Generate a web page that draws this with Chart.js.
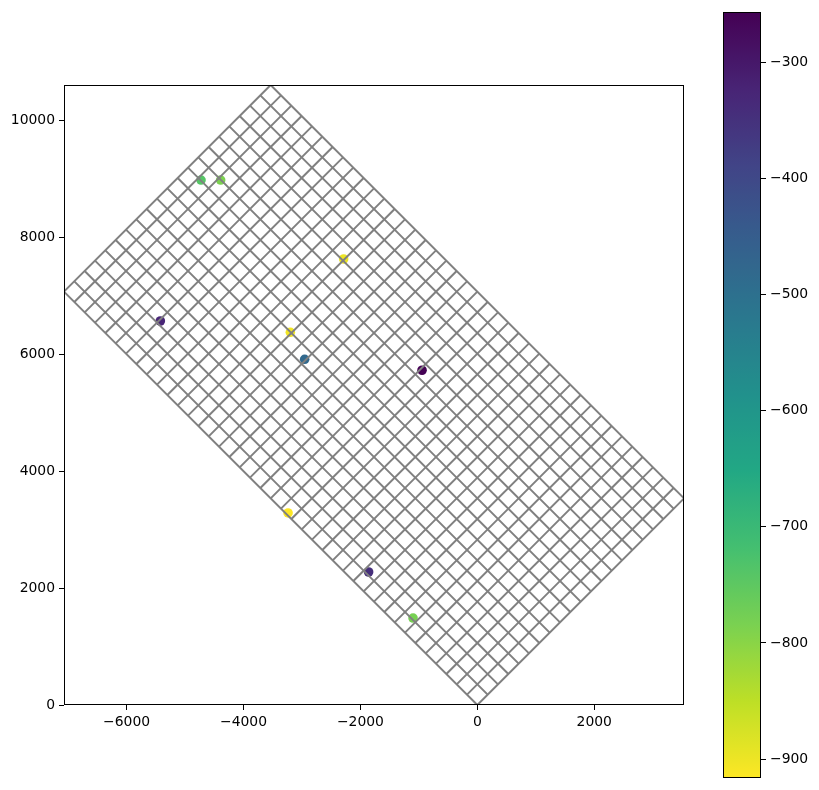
<!DOCTYPE html>
<html><head><meta charset="utf-8">
<script src="https://cdn.jsdelivr.net/npm/chart.js@4.4.0/dist/chart.umd.min.js"></script>
<style>
html,body{margin:0;padding:0;background:#fff;}
#wrap{position:relative;width:819px;height:790px;background:#fff;}
#main{position:absolute;left:0;top:0;}
#cbar{position:absolute;left:700px;top:0;}
</style></head><body>
<div id="wrap"><canvas id="main" width="700" height="790"></canvas><canvas id="cbar" width="119" height="790"></canvas></div>
<script>
// ---- data ----
const obsX = [-4727, -4391, -2287, -5423, -3199, -2954, -946, -3238, -1860, -1100];
const obsY = [8981, 8981, 7630, 6569, 6376, 5914, 5727, 3285, 2275, 1488];
const obsValue = [-740, -785, -900, -325, -905, -480, -257, -916, -345, -780];

// model grid definition
const gridNcol = 20;
const gridNrow = 40;
const gridDelr = 250;
const gridDelc = 250;
const gridAngleDeg = 45;

const xTicks = [-6000, -4000, -2000, 0, 2000];
const yTicks = [0, 2000, 4000, 6000, 8000, 10000];
const cbarTicks = [-900, -800, -700, -600, -500, -400, -300];

// ---- helpers ----
const VIRIDIS = ['#440154','#482475','#414487','#355f8d','#2a788e','#21918c','#22a884','#44bf70','#7ad151','#bddf26','#fde725'];
function hex2rgb(h){return [parseInt(h.slice(1,3),16),parseInt(h.slice(3,5),16),parseInt(h.slice(5,7),16)];}
function viridis(t){
  t = Math.max(0, Math.min(1, t));
  const p = t * (VIRIDIS.length - 1);
  const i = Math.min(Math.floor(p), VIRIDIS.length - 2);
  const f = p - i;
  const a = hex2rgb(VIRIDIS[i]), b = hex2rgb(VIRIDIS[i+1]);
  return 'rgb(' + [0,1,2].map(k => Math.round(a[k] + (b[k]-a[k])*f)).join(',') + ')';
}
const vmin = Math.min(...obsValue), vmax = Math.max(...obsValue);
// reversed viridis: min -> yellow, max -> purple
function valueColor(v){ return viridis(1 - (v - vmin) / (vmax - vmin)); }

const ang = gridAngleDeg * Math.PI / 180;
function rot(xl, yl){ return {x: xl*Math.cos(ang) - yl*Math.sin(ang), y: xl*Math.sin(ang) + yl*Math.cos(ang)}; }
const Lx = gridNcol * gridDelr, Ly = gridNrow * gridDelc;

const gridDatasets = [];
for (let i = 0; i <= gridNcol; i++) {
  gridDatasets.push({data: [rot(i*gridDelr, 0), rot(i*gridDelr, Ly)]});
}
for (let j = 0; j <= gridNrow; j++) {
  gridDatasets.push({data: [rot(0, j*gridDelc), rot(Lx, j*gridDelc)]});
}
gridDatasets.forEach(d => Object.assign(d, {
  showLine: true, borderColor: '#808080', borderWidth: 2, pointRadius: 0,
  order: 0, clip: 0, fill: false
}));

const corners = [rot(0,0), rot(Lx,0), rot(0,Ly), rot(Lx,Ly)];
const xMin = Math.min(...corners.map(c=>c.x)), xMax = Math.max(...corners.map(c=>c.x));
const yMin = Math.min(...corners.map(c=>c.y)), yMax = Math.max(...corners.map(c=>c.y));

const pointsDataset = {
  data: obsX.map((x,i) => ({x: x, y: obsY[i]})),
  pointRadius: 4.8,
  pointBorderWidth: 0,
  pointBackgroundColor: obsValue.map(valueColor),
  pointBorderColor: obsValue.map(valueColor),
  showLine: false,
  order: 1
};

const FONT = {family: '"DejaVu Sans", sans-serif', size: 13.9};
const minus = v => String(v).replace('-', '\u2212');

const framePlugin = {
  id: 'frame',
  afterDraw(chart){
    const a = chart.chartArea, ctx = chart.ctx;
    ctx.save();
    ctx.strokeStyle = '#000'; ctx.lineWidth = 1;
    const l = Math.round(a.left) + 0.5, t = Math.round(a.top) + 0.5;
    const r = Math.round(a.right) - 0.5, b = Math.round(a.bottom) - 0.5;
    ctx.strokeRect(l, t, r - l, b - t);
    ctx.restore();
  }
};

const axisCommon = {
  type: 'linear',
  grid: {drawOnChartArea: false, drawTicks: true, tickLength: 5, color: '#000', tickWidth: 1},
  border: {display: false},
  ticks: {color: '#000', font: FONT, padding: 4, maxRotation: 0, autoSkip: false, includeBounds: false}
};

new Chart(document.getElementById('main'), {
  type: 'scatter',
  data: {datasets: [...gridDatasets, pointsDataset]},
  options: {
    responsive: false, animation: false, devicePixelRatio: 1,
    layout: {padding: {left: 0, top: 85, right: 16, bottom: 45}},
    plugins: {legend: {display: false}, tooltip: {enabled: false}},
    scales: {
      x: Object.assign({}, axisCommon, {
        min: xMin, max: xMax,
        ticks: Object.assign({}, axisCommon.ticks, {callback: minus}),
        afterBuildTicks: s => { s.ticks = xTicks.map(v => ({value: v})); },
        afterFit: s => { s.height = 40; }
      }),
      y: Object.assign({}, axisCommon, {
        min: yMin, max: yMax,
        ticks: Object.assign({}, axisCommon.ticks, {callback: minus}),
        afterBuildTicks: s => { s.ticks = yTicks.map(v => ({value: v})); },
        afterFit: s => { s.width = 64; }
      })
    }
  },
  plugins: [framePlugin]
});

const gradientPlugin = {
  id: 'cbarGradient',
  beforeDatasetsDraw(chart){
    const a = chart.chartArea, ctx = chart.ctx;
    const g = ctx.createLinearGradient(0, a.top, 0, a.bottom);
    for (let i = 0; i <= 50; i++) g.addColorStop(i/50, viridis(i/50));
    ctx.save(); ctx.fillStyle = g;
    ctx.fillRect(a.left, a.top, a.right - a.left, a.bottom - a.top);
    ctx.restore();
  }
};

new Chart(document.getElementById('cbar'), {
  type: 'scatter',
  data: {datasets: [{data: []}]},
  options: {
    responsive: false, animation: false, devicePixelRatio: 1,
    layout: {padding: {left: 23, top: 10, right: 0, bottom: 11}},
    plugins: {legend: {display: false}, tooltip: {enabled: false}},
    scales: {
      x: {type: 'linear', display: false, min: 0, max: 1},
      y: Object.assign({}, axisCommon, {
        position: 'right', min: vmin, max: vmax,
        ticks: Object.assign({}, axisCommon.ticks, {callback: minus}),
        afterBuildTicks: s => { s.ticks = cbarTicks.map(v => ({value: v})); },
        afterFit: s => { s.width = 58; }
      })
    }
  },
  plugins: [gradientPlugin, framePlugin]
});
</script>
</body></html>
